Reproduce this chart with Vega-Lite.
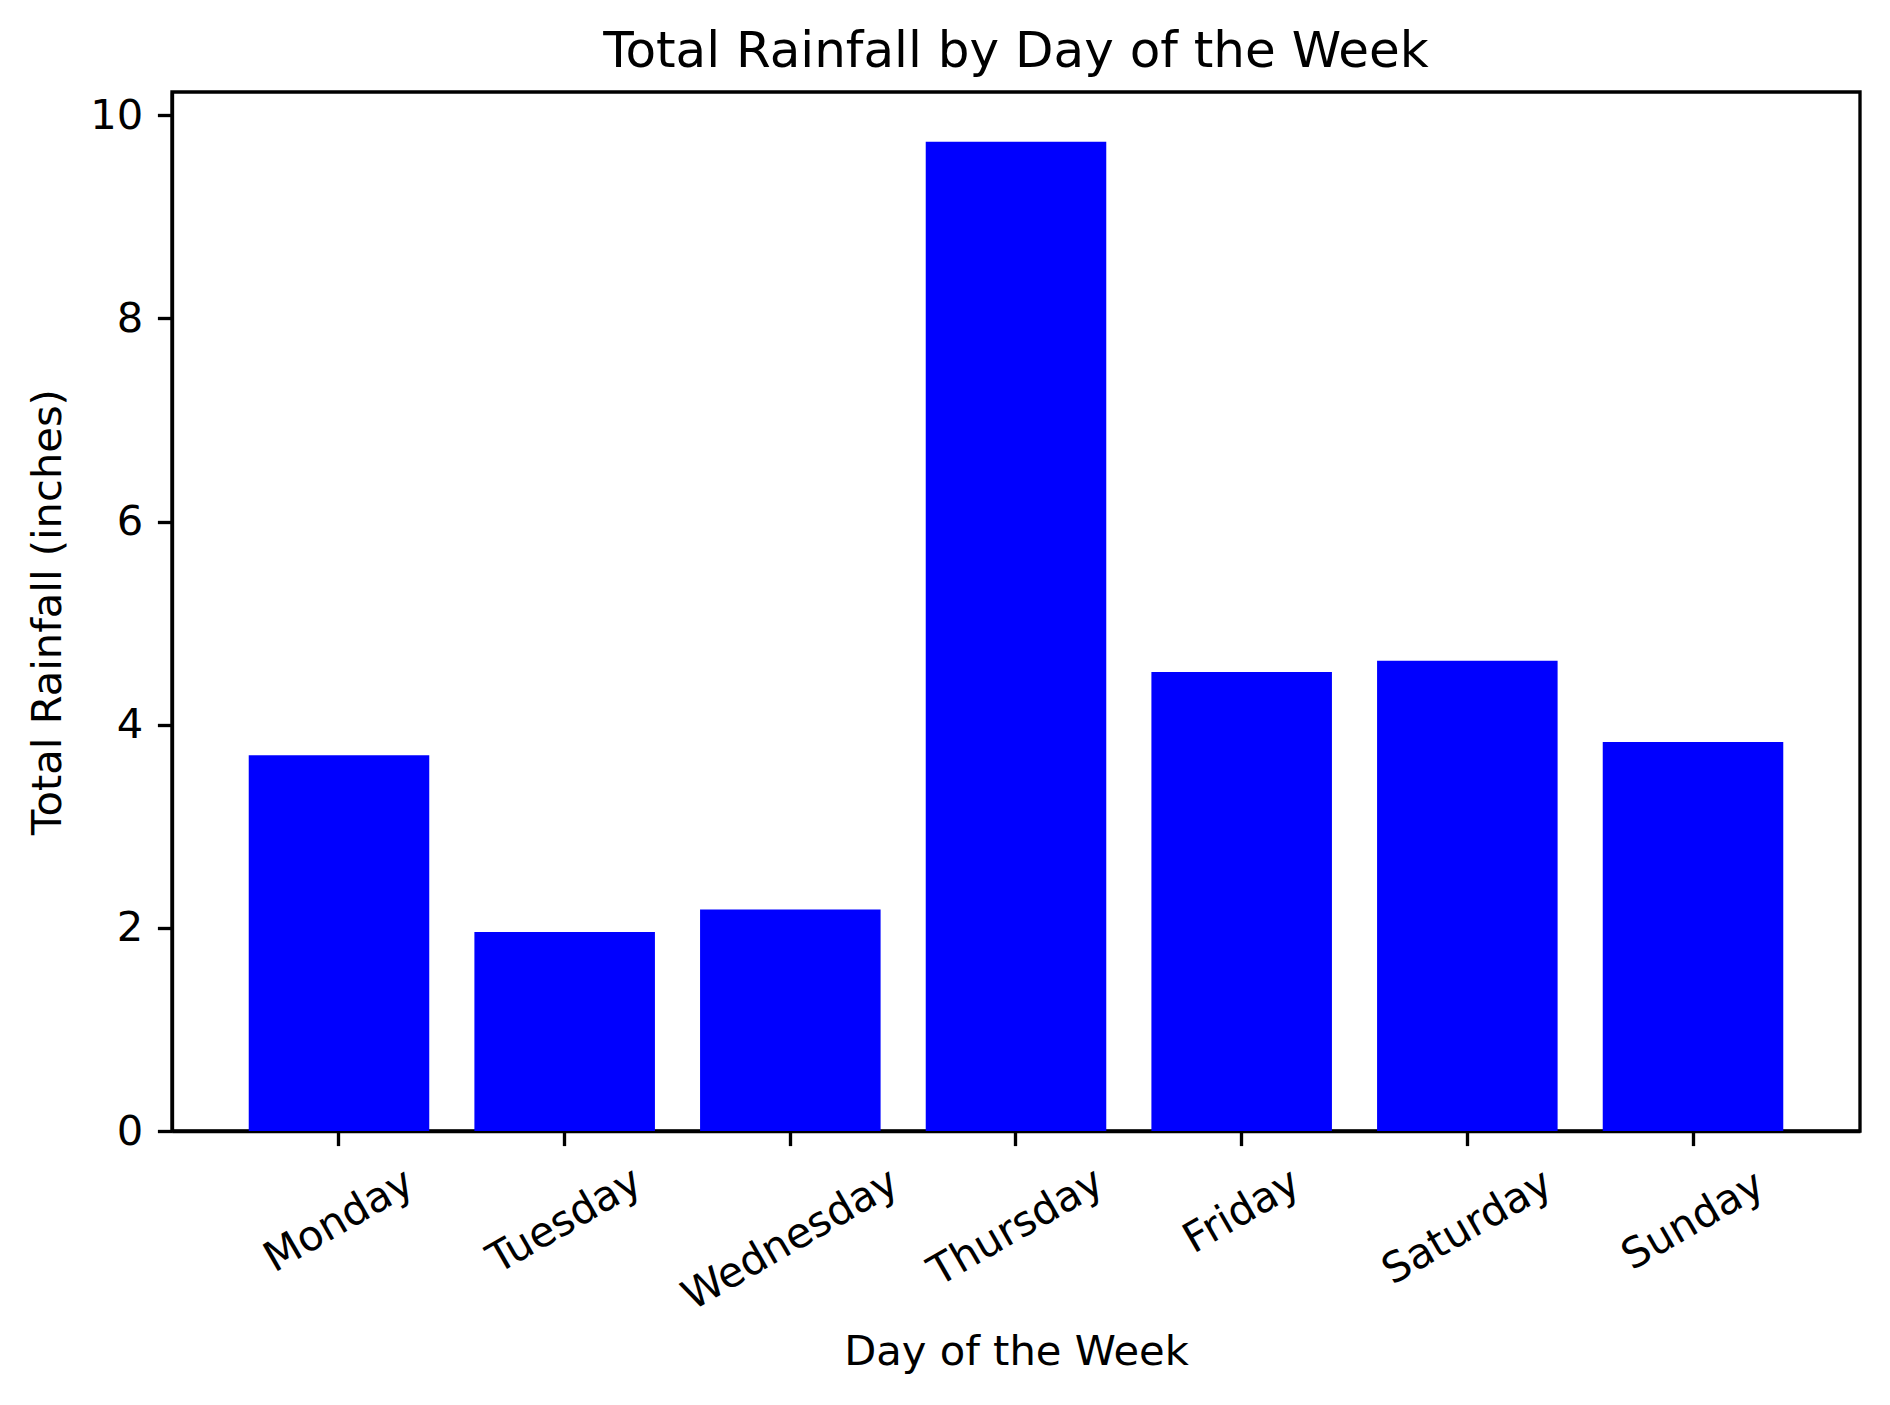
{
  "$schema": "https://vega.github.io/schema/vega-lite/v6.json",
  "width": 1688,
  "height": 1039,
  "autosize": {"type": "none"},
  "padding": {"left": 172, "top": 92, "right": 30, "bottom": 274},
  "background": "white",
  "title": {
    "text": "Total Rainfall by Day of the Week",
    "font": "DejaVu Sans",
    "fontSize": 50,
    "fontWeight": "normal",
    "color": "black",
    "anchor": "middle",
    "frame": "group",
    "offset": 15
  },
  "data": {
    "values": [
      {"day": "Monday", "rainfall": 3.70},
      {"day": "Tuesday", "rainfall": 1.96},
      {"day": "Wednesday", "rainfall": 2.18},
      {"day": "Thursday", "rainfall": 9.74},
      {"day": "Friday", "rainfall": 4.52},
      {"day": "Saturday", "rainfall": 4.63},
      {"day": "Sunday", "rainfall": 3.83}
    ]
  },
  "encoding": {
    "y": {
      "field": "rainfall",
      "type": "quantitative",
      "scale": {"domain": [0, 10.23], "nice": false, "zero": true},
      "axis": {
        "values": [0, 2, 4, 6, 8, 10],
        "format": "d",
        "title": "Total Rainfall (inches)",
        "titleX": -112,
        "titleY": 519.5,
        "titleBaseline": "alphabetic",
        "titleAngle": -90,
        "labelPadding": 14.6
      }
    }
  },
  "layer": [
    {
      "mark": {"type": "bar", "color": "#0000ff"},
      "encoding": {
        "x": {
          "field": "day",
          "type": "nominal",
          "sort": ["Monday", "Tuesday", "Wednesday", "Thursday", "Friday", "Saturday", "Sunday"],
          "scale": {"paddingInner": 0.2, "paddingOuter": 0.34},
          "axis": {
            "orient": "bottom",
            "title": "Day of the Week",
            "titleY": 233,
            "titleBaseline": "alphabetic",
            "labelAngle": -30,
            "labelAlign": "center",
            "labelBaseline": "middle",
            "labelPadding": 74.5,
            "labelExpr": "indexof(['Sunday','Monday','Tuesday'], datum.value) >= 0 ? datum.label : ''"
          }
        }
      }
    },
    {
      "mark": {"type": "bar", "opacity": 0},
      "encoding": {
        "x": {
          "field": "day",
          "type": "nominal",
          "sort": ["Monday", "Tuesday", "Wednesday", "Thursday", "Friday", "Saturday", "Sunday"],
          "scale": {"paddingInner": 0.2, "paddingOuter": 0.34},
          "axis": {
            "orient": "bottom",
            "title": null,
            "domain": false,
            "ticks": false,
            "labelAngle": -30,
            "labelAlign": "center",
            "labelBaseline": "middle",
            "labelPadding": 79.6,
            "labelExpr": "datum.value == 'Friday' ? datum.label : ''"
          }
        }
      }
    },
    {
      "mark": {"type": "bar", "opacity": 0},
      "encoding": {
        "x": {
          "field": "day",
          "type": "nominal",
          "sort": ["Monday", "Tuesday", "Wednesday", "Thursday", "Friday", "Saturday", "Sunday"],
          "scale": {"paddingInner": 0.2, "paddingOuter": 0.34},
          "axis": {
            "orient": "bottom",
            "title": null,
            "domain": false,
            "ticks": false,
            "labelAngle": -30,
            "labelAlign": "center",
            "labelBaseline": "middle",
            "labelPadding": 95.5,
            "labelExpr": "indexof(['Saturday','Thursday'], datum.value) >= 0 ? datum.label : ''"
          }
        }
      }
    },
    {
      "mark": {"type": "bar", "opacity": 0},
      "encoding": {
        "x": {
          "field": "day",
          "type": "nominal",
          "sort": ["Monday", "Tuesday", "Wednesday", "Thursday", "Friday", "Saturday", "Sunday"],
          "scale": {"paddingInner": 0.2, "paddingOuter": 0.34},
          "axis": {
            "orient": "bottom",
            "title": null,
            "domain": false,
            "ticks": false,
            "labelAngle": -30,
            "labelAlign": "center",
            "labelBaseline": "middle",
            "labelPadding": 108,
            "labelExpr": "datum.value == 'Wednesday' ? datum.label : ''"
          }
        }
      }
    }
  ],
  "resolve": {"axis": {"x": "independent"}},
  "config": {
    "font": "DejaVu Sans",
    "view": {"stroke": "black", "strokeWidth": 3.33},
    "axis": {
      "grid": false,
      "labelFont": "DejaVu Sans",
      "labelFontSize": 41.67,
      "labelColor": "black",
      "labelLimit": 0,
      "tickSize": 14.6,
      "tickWidth": 3.33,
      "tickColor": "black",
      "domainColor": "black",
      "domainWidth": 3.33,
      "titleFont": "DejaVu Sans",
      "titleFontSize": 41.67,
      "titleFontWeight": "normal",
      "titleColor": "black",
      "labelOverlap": false,
      "labelBound": false,
      "labelFlush": false
    }
  }
}
